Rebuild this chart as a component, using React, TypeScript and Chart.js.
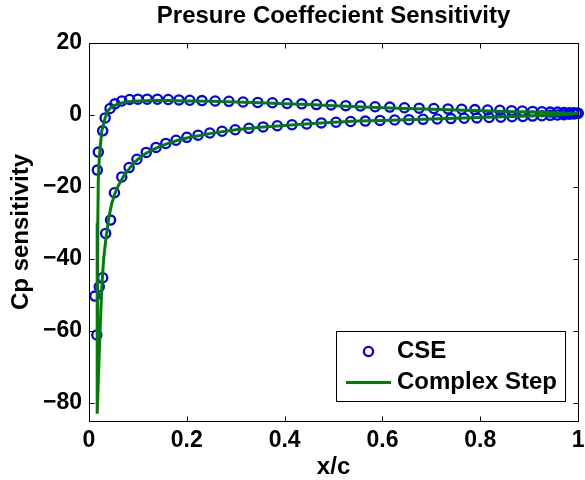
import React, { useEffect, useRef } from 'react';
import { Chart, registerables } from 'chart.js';

Chart.register(...registerables);

const FONT = '"Liberation Sans", Arial, Helvetica, sans-serif';

const titleText = 'Presure Coeffecient Sensitivity';
const xLabel = 'x/c';
const yLabel = 'Cp sensitivity';

const xTicks = [0, 0.2, 0.4, 0.6, 0.8, 1];
const yTicks = [-80, -60, -40, -20, 0, 20];

// CSE samples near the nose
const cseNoseX = [0.012, 0.016];
const cseNoseY = [-50.3, -61.1];

// CSE samples, upper surface (nose to trailing edge)
const cseUpperX = [
  0.017, 0.019, 0.028, 0.033, 0.043, 0.053, 0.067, 0.083, 0.100, 0.119,
  0.140, 0.162, 0.184, 0.206, 0.231, 0.258, 0.286, 0.315, 0.345, 0.375,
  0.405, 0.435, 0.465, 0.495, 0.525, 0.555, 0.585, 0.615, 0.645, 0.675,
  0.705, 0.734, 0.762, 0.789, 0.815, 0.840, 0.864, 0.886, 0.907, 0.926,
  0.943, 0.958, 0.971, 0.982, 0.991, 0.997, 1.0,
];
const cseUpperY = [
  -15.3, -10.3, -4.4, -0.8, 1.8, 3.1, 3.9, 4.3, 4.4, 4.4,
  4.4, 4.3, 4.2, 4.1, 4.0, 3.9, 3.8, 3.6, 3.5, 3.4,
  3.2, 3.1, 2.9, 2.8, 2.6, 2.5, 2.3, 2.2, 2.0, 1.9,
  1.8, 1.7, 1.6, 1.5, 1.4, 1.3, 1.2, 1.1, 1.0, 0.9,
  0.8, 0.8, 0.7, 0.6, 0.6, 0.5, 0.5,
];

// CSE samples, lower surface (nose to trailing edge)
const cseLowerX = [
  0.021, 0.028, 0.034, 0.044, 0.052, 0.067, 0.082, 0.098, 0.117, 0.137,
  0.157, 0.178, 0.200, 0.223, 0.247, 0.272, 0.299, 0.327, 0.356, 0.385,
  0.415, 0.445, 0.475, 0.505, 0.535, 0.565, 0.595, 0.625, 0.654, 0.683,
  0.712, 0.740, 0.767, 0.793, 0.818, 0.842, 0.865, 0.887, 0.907, 0.926,
  0.943, 0.958, 0.971, 0.982, 0.991, 0.997, 1.0,
];
const cseLowerY = [
  -47.7, -45.2, -32.9, -29.2, -21.6, -17.2, -14.6, -12.3, -10.4, -9.0,
  -7.9, -7.0, -6.2, -5.6, -5.0, -4.5, -4.1, -3.7, -3.3, -3.0,
  -2.7, -2.5, -2.2, -2.0, -1.8, -1.7, -1.5, -1.4, -1.3, -1.2,
  -1.1, -1.0, -0.9, -0.8, -0.7, -0.6, -0.5, -0.4, -0.3, -0.2,
  -0.1, 0.0, 0.1, 0.2, 0.3, 0.4, 0.5,
];

// Complex-step curve: trailing edge along the upper surface, round the nose, back along the lower surface
const stepX = [
  1.0, 0.98, 0.95, 0.9, 0.85, 0.8, 0.75, 0.7, 0.65, 0.6,
  0.55, 0.5, 0.45, 0.4, 0.35, 0.3, 0.25, 0.2, 0.16, 0.13,
  0.1, 0.08, 0.065, 0.055, 0.046, 0.039, 0.033, 0.029, 0.026, 0.024,
  0.021, 0.019, 0.018, 0.017, 0.0165,
  0.021, 0.024, 0.027, 0.030, 0.034, 0.040, 0.046, 0.053, 0.060, 0.070,
  0.080, 0.094, 0.110, 0.128, 0.145, 0.162, 0.180, 0.200, 0.25, 0.3,
  0.35, 0.4, 0.45, 0.5, 0.55, 0.6, 0.65, 0.7, 0.75, 0.8,
  0.85, 0.9, 0.95, 0.98, 1.0,
];
const stepY = [
  0.4, 0.5, 0.6, 0.8, 1.0, 1.2, 1.4, 1.6, 1.8, 2.0,
  2.3, 2.6, 2.9, 3.1, 3.4, 3.6, 3.8, 3.9, 4.0, 4.0,
  3.9, 3.7, 3.3, 2.8, 2.2, 1.2, -0.8, -3.0, -4.5, -7.5,
  -12, -18, -30, -50, -83,
  -66, -55, -46, -40, -35, -29, -24.8, -21.8, -19.6, -17.2,
  -15.3, -13.0, -11.2, -9.8, -8.7, -7.9, -7.1, -6.4, -5.1, -4.1,
  -3.4, -2.9, -2.4, -2.0, -1.7, -1.5, -1.3, -1.1, -0.9, -0.7,
  -0.5, -0.3, 0.0, 0.2, 0.4,
];

const zip = (xs: number[], ys: number[]) => xs.map((x, i) => ({ x, y: ys[i] }));

const csePoints = [
  ...zip(cseNoseX, cseNoseY),
  ...zip(cseUpperX, cseUpperY),
  ...zip(cseLowerX, cseLowerY),
];
const stepPoints = zip(stepX, stepY);

const fmtTick = (v: number) => String(v).replace('-', '\u2212');

// Title centred over the axes, axes box with inward tick marks on all four sides, boxed legend
const framePlugin = {
  id: 'frame',
  afterDatasetsDraw(chart: any) {
    const { ctx, chartArea, scales } = chart;
    const L = Math.round(chartArea.left) + 0.5;
    const R = Math.round(chartArea.right) + 0.5;
    const T = Math.round(chartArea.top) + 0.5;
    const B = Math.round(chartArea.bottom) + 0.5;
    const len = 5;
    ctx.save();
    ctx.strokeStyle = '#000';
    ctx.lineWidth = 1;
    ctx.strokeRect(L, T, R - L, B - T);
    ctx.beginPath();
    for (const v of xTicks) {
      const px = Math.round(scales.x.getPixelForValue(v)) + 0.5;
      ctx.moveTo(px, B); ctx.lineTo(px, B - len);
      ctx.moveTo(px, T); ctx.lineTo(px, T + len);
    }
    for (const v of yTicks) {
      const py = Math.round(scales.y.getPixelForValue(v)) + 0.5;
      ctx.moveTo(L, py); ctx.lineTo(L + len, py);
      ctx.moveTo(R, py); ctx.lineTo(R - len, py);
    }
    ctx.stroke();

    ctx.fillStyle = '#000';
    ctx.font = `bold 24px ${FONT}`;
    ctx.textAlign = 'center';
    ctx.textBaseline = 'middle';
    ctx.fillText(titleText, (chartArea.left + chartArea.right) / 2, 16);
    ctx.restore();
  },
  afterDraw(chart: any) {
    const { ctx } = chart;
    const box = { x: 336.5, y: 331.5, w: 229, h: 70 };
    ctx.save();
    ctx.fillStyle = '#fff';
    ctx.fillRect(box.x, box.y, box.w, box.h);
    ctx.strokeStyle = '#000';
    ctx.lineWidth = 1;
    ctx.strokeRect(box.x, box.y, box.w, box.h);
    ctx.font = `bold 24px ${FONT}`;
    ctx.textBaseline = 'middle';
    ctx.textAlign = 'left';
    chart.data.datasets.forEach((ds: any, i: number) => {
      const cy = 351.5 + i * 31;
      if (ds.showLine) {
        ctx.strokeStyle = ds.borderColor;
        ctx.lineWidth = ds.borderWidth;
        ctx.beginPath();
        ctx.moveTo(346, cy);
        ctx.lineTo(391, cy);
        ctx.stroke();
      } else {
        ctx.strokeStyle = ds.pointBorderColor;
        ctx.lineWidth = ds.pointBorderWidth;
        ctx.beginPath();
        ctx.arc(368.5, cy, ds.pointRadius, 0, Math.PI * 2);
        ctx.stroke();
      }
      ctx.fillStyle = '#000';
      ctx.fillText(ds.label, 397, cy);
    });
    ctx.restore();
  },
};

export default function App() {
  const ref = useRef<HTMLCanvasElement>(null);

  useEffect(() => {
    const canvas = ref.current;
    if (!canvas) return;
    const chart = new Chart(canvas, {
      type: 'scatter',
      data: {
        datasets: [
          {
            label: 'CSE',
            data: csePoints,
            showLine: false,
            pointStyle: 'circle',
            pointRadius: 4.6,
            pointHoverRadius: 4.6,
            pointBorderWidth: 2.3,
            pointBorderColor: '#0000ff',
            pointBackgroundColor: 'rgba(0,0,0,0)',
            borderColor: '#0000ff',
            backgroundColor: 'rgba(0,0,0,0)',
            order: 1,
            clip: false,
          },
          {
            label: 'Complex Step',
            data: stepPoints,
            showLine: true,
            borderColor: '#008000',
            backgroundColor: '#008000',
            borderWidth: 3,
            pointRadius: 0,
            pointHoverRadius: 0,
            tension: 0,
            order: 0,
            clip: false,
          },
        ],
      } as any,
      options: {
        animation: false,
        responsive: false,
        devicePixelRatio: 1,
        events: [],
        layout: { padding: { left: 0, right: 5, top: 43, bottom: 0 } },
        plugins: {
          legend: { display: false },
          tooltip: { enabled: false },
          title: { display: false },
        },
        scales: {
          x: {
            type: 'linear',
            min: 0,
            max: 1,
            grid: { display: false, drawTicks: false },
            border: { display: false },
            afterBuildTicks: (scale: any) => {
              scale.ticks = xTicks.map((value) => ({ value }));
            },
            afterFit: (scale: any) => {
              scale.height = 59;
              scale.paddingLeft = 0;
              scale.paddingRight = 0;
            },
            ticks: {
              color: '#000',
              font: { family: FONT, size: 23, weight: 'bold', lineHeight: 1 },
              padding: 8,
              maxRotation: 0,
              autoSkip: false,
              callback: (v: any) => fmtTick(Number(v)),
            },
            title: {
              display: true,
              text: xLabel,
              color: '#000',
              font: { family: FONT, size: 24, weight: 'bold', lineHeight: 1 },
              padding: { top: 0, bottom: 1 },
            },
          },
          y: {
            type: 'linear',
            min: -85,
            max: 20,
            grid: { display: false, drawTicks: false },
            border: { display: false },
            afterBuildTicks: (scale: any) => {
              scale.ticks = yTicks.map((value) => ({ value }));
            },
            afterFit: (scale: any) => {
              scale.width = 89;
              scale.paddingTop = 0;
              scale.paddingBottom = 0;
            },
            ticks: {
              color: '#000',
              font: { family: FONT, size: 23, weight: 'bold', lineHeight: 1 },
              padding: 7,
              autoSkip: false,
              callback: (v: any) => fmtTick(Number(v)),
            },
            title: {
              display: true,
              text: yLabel,
              color: '#000',
              font: { family: FONT, size: 24, weight: 'bold', lineHeight: 1 },
              padding: { top: 9, bottom: 0 },
            },
          },
        },
      } as any,
      plugins: [framePlugin],
    });
    return () => chart.destroy();
  }, []);

  return (
    <div style={{ position: 'fixed', left: 0, top: 0, width: 585, height: 480, background: '#fff' }}>
      <canvas ref={ref} width={585} height={480} style={{ display: 'block' }} />
    </div>
  );
}
